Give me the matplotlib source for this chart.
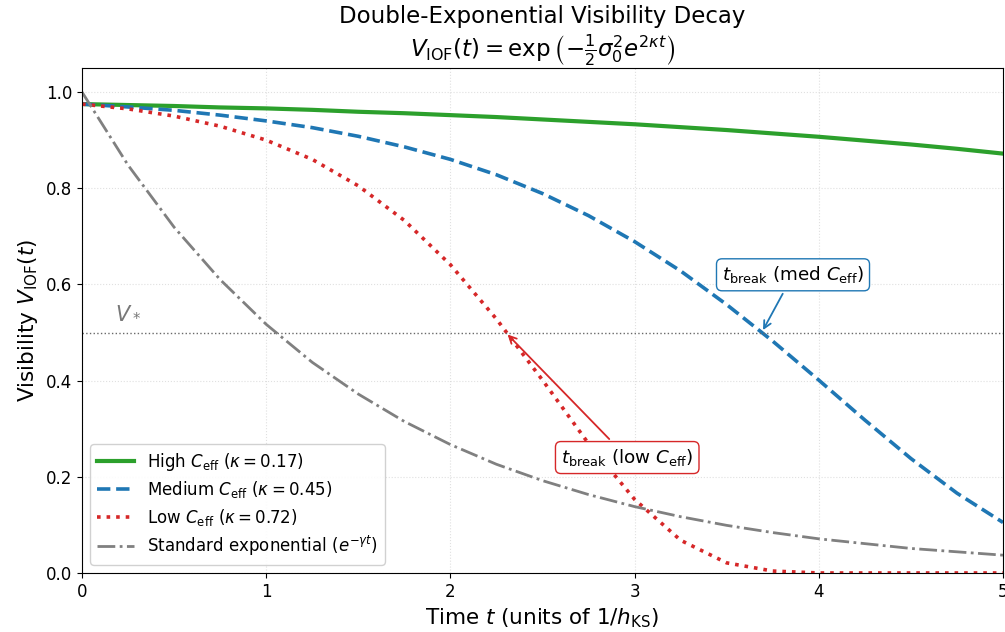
import numpy as np
import matplotlib.pyplot as plt

# Values
t = [0.0, 0.25, 0.5, 0.75, 1.0, 1.25, 1.5, 1.75, 2.0, 2.25, 2.5,
     2.75, 3.0, 3.25, 3.5, 3.75, 4.0, 4.25, 4.5, 4.75, 5.0]
v_high = [0.975, 0.973, 0.971, 0.968, 0.966, 0.963, 0.959, 0.956, 0.952, 0.948, 0.943,
          0.938, 0.933, 0.927, 0.921, 0.914, 0.907, 0.899, 0.891, 0.882, 0.872]
v_med = [0.975, 0.969, 0.962, 0.952, 0.940, 0.926, 0.908, 0.886, 0.860, 0.828, 0.789,
         0.743, 0.689, 0.628, 0.558, 0.482, 0.401, 0.318, 0.238, 0.166, 0.105]
v_low = [0.975, 0.965, 0.950, 0.929, 0.900, 0.860, 0.805, 0.733, 0.641, 0.528, 0.401,
         0.269, 0.153, 0.068, 0.021, 0.004, 0.0, 0.0, 0.0, 0.0, 0.0]
v_std = [1.0, 0.848, 0.719, 0.610, 0.517, 0.438, 0.372, 0.315, 0.267, 0.226, 0.192,
         0.163, 0.138, 0.117, 0.099, 0.084, 0.071, 0.061, 0.051, 0.044, 0.037]

labels = [
    r"High $C_{\mathrm{eff}}$ ($\kappa = 0.17$)",
    r"Medium $C_{\mathrm{eff}}$ ($\kappa = 0.45$)",
    r"Low $C_{\mathrm{eff}}$ ($\kappa = 0.72$)",
    r"Standard exponential ($e^{-\gamma t}$)",
]
v_star = 0.5
t_break_med = 3.69
t_break_low = 2.30


def main():
    fig = plt.figure(figsize=(10.05, 6.32), dpi=100)
    ax = fig.add_axes([0.0816, 0.0934, 0.9164, 0.799])

    ax.plot(t, v_high, color="#2ca02c", lw=3, label=labels[0])
    ax.plot(t, v_med, color="#1f77b4", lw=2.6, ls="--", label=labels[1])
    ax.plot(t, v_low, color="#d62728", lw=2.6, ls=":", label=labels[2])
    ax.plot(t, v_std, color="gray", lw=2, ls="-.", label=labels[3])

    ax.axhline(v_star, color="dimgray", lw=1, ls=":")
    ax.text(0.18, 0.53, r"$V_*$", color="dimgray", fontsize=15, alpha=0.9)

    ax.annotate(
        r"$t_{\mathrm{break}}$ (med $C_{\mathrm{eff}}$)",
        xy=(t_break_med, v_star), xytext=(3.86, 0.62),
        ha="center", va="center", fontsize=13.2,
        bbox=dict(boxstyle="round,pad=0.3", fc="white", ec="#1f77b4"),
        arrowprops=dict(arrowstyle="->", color="#1f77b4", lw=1.3),
    )
    ax.annotate(
        r"$t_{\mathrm{break}}$ (low $C_{\mathrm{eff}}$)",
        xy=(t_break_low, v_star), xytext=(2.96, 0.24),
        ha="center", va="center", fontsize=13.2,
        bbox=dict(boxstyle="round,pad=0.3", fc="white", ec="#d62728"),
        arrowprops=dict(arrowstyle="->", color="#d62728", lw=1.3),
    )

    ax.set_xlim(0, 5)
    ax.set_ylim(0, 1.05)
    ax.tick_params(labelsize=12)
    ax.grid(True, ls=":", color="lightgray", alpha=0.7)
    ax.set_xlabel(r"Time $t$ (units of $1/h_{\mathrm{KS}}$)", fontsize=15.5)
    ax.set_ylabel(r"Visibility $V_{\mathrm{IOF}}(t)$", fontsize=15.5)
    ax.set_title(
        "Double-Exponential Visibility Decay\n"
        r"$V_{\mathrm{IOF}}(t) = \exp\left(-\frac{1}{2}\sigma_0^2 e^{2\kappa t}\right)$",
        fontsize=16.5,
    )
    ax.legend(loc="lower left", fontsize=12, framealpha=0.9,
              labelspacing=0.38, handlelength=2.2)

    fig.savefig("out.png", dpi=100)


if __name__ == "__main__":
    main()
